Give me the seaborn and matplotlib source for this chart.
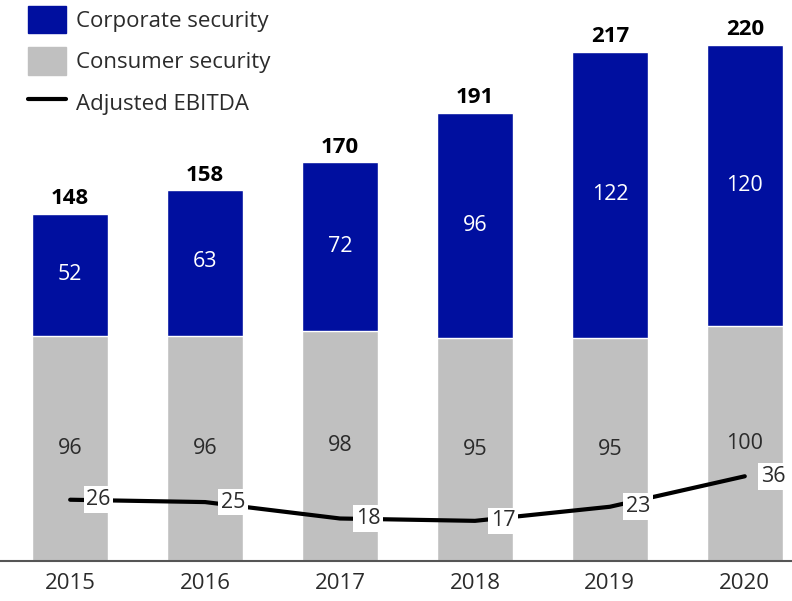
import numpy as np
import pandas as pd
import matplotlib
matplotlib.use("Agg")
import matplotlib.pyplot as plt
import seaborn as sns
from matplotlib.patches import Patch
from matplotlib.lines import Line2D

# --- dados ---
anos = ["2015", "2016", "2017", "2018", "2019", "2020"]
consumer = [96, 96, 98, 95, 95, 100]
corporate = [52, 63, 72, 96, 122, 120]
totais = [148, 158, 170, 191, 217, 220]
ebitda = [26, 25, 18, 17, 23, 36]

AZUL = "#000F9F"
CINZA = "#C0C0C0"
TEXTO = "#2B2B2B"

sns.set_style("white")
plt.rcParams["font.family"] = ["Open Sans", "DejaVu Sans"]

df = pd.DataFrame({"ano": anos, "consumer": consumer, "total": totais})

fig = plt.figure(figsize=(7.92, 6.01), dpi=100)
ax = fig.add_axes([0, 0.067, 1, 0.933])

# barras empilhadas: total em azul, consumer em cinza por cima
sns.barplot(data=df, x="ano", y="total", color=AZUL, width=0.56,
            saturation=1, ax=ax)
sns.barplot(data=df, x="ano", y="consumer", color=CINZA, width=0.56,
            saturation=1, ax=ax)

# linha EBITDA
sns.lineplot(x=np.arange(len(anos)), y=ebitda, color="black", lw=3, ax=ax)

# rótulos dentro das barras
for i in range(len(anos)):
    ax.text(i, consumer[i] / 2, str(consumer[i]), ha="center", va="center",
            fontsize=15.5, color=TEXTO)
    ax.text(i, consumer[i] + corporate[i] / 2, str(corporate[i]), ha="center",
            va="center", fontsize=15.5, color="white")
    ax.annotate(str(totais[i]), (i, totais[i]), xytext=(0, 3),
                textcoords="offset points", ha="center", va="bottom",
                fontsize=16, fontweight="bold", color="black")
    ax.text(i + 0.21, ebitda[i], str(ebitda[i]), ha="center", va="center",
            fontsize=15.5, color=TEXTO,
            bbox=dict(facecolor="white", edgecolor="none", pad=2))

ax.set_xlim(-0.52, 5.35)
ax.set_ylim(0, 239)
ax.set_xlabel("")
ax.set_ylabel("")
ax.set_yticks([])
for s in ["left", "right", "top"]:
    ax.spines[s].set_visible(False)
ax.spines["bottom"].set_color("#555555")
ax.spines["bottom"].set_linewidth(1.5)
ax.tick_params(axis="x", length=0, labelsize=16, labelcolor=TEXTO, pad=9)

handles = [Patch(color=AZUL, label="Corporate security"),
           Patch(color=CINZA, label="Consumer security"),
           Line2D([0], [0], color="black", lw=3, label="Adjusted EBITDA")]
leg = ax.legend(handles=handles, loc="upper left", frameon=False,
                fontsize=16, handlelength=1.7, handleheight=1.55,
                labelspacing=0.62, handletextpad=0.45,
                bbox_to_anchor=(0.024, 1.006), borderaxespad=0)
for t in leg.get_texts():
    t.set_color(TEXTO)

fig.savefig("out.png", dpi=100)
